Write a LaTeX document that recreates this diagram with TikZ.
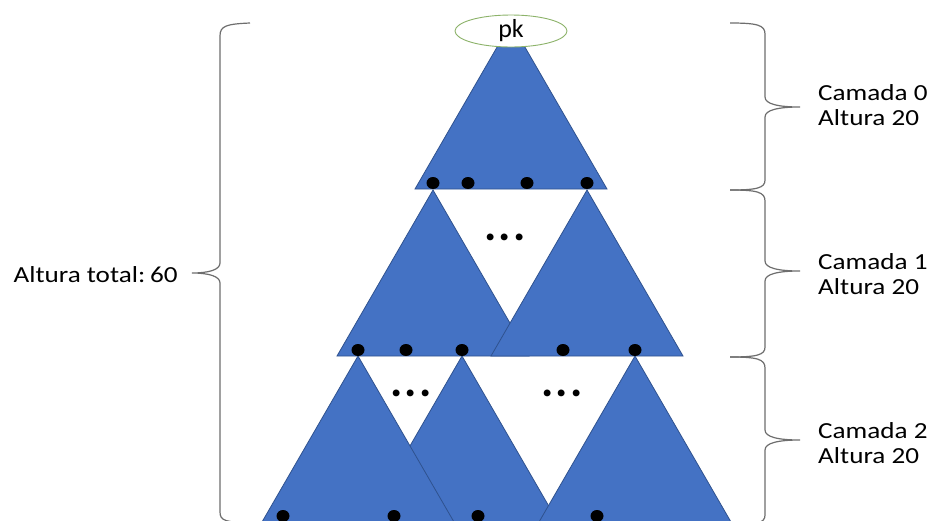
\documentclass[tikz,border=0pt]{standalone}
\usepackage{fontspec}
\setmainfont{Carlito}
\usetikzlibrary{shapes.geometric}
\definecolor{triblue}{HTML}{4472C4}
\definecolor{triline}{HTML}{2F528F}
\definecolor{ellgreen}{HTML}{8DB36A}
\definecolor{bracegray}{HTML}{6E6E6E}
\begin{document}
\begin{tikzpicture}[x=1pt,y=-1pt,
  tri/.style={fill=triblue, draw=triline, line width=0.8pt, line join=miter},
  leafdot/.style={fill=black},
  bracepath/.style={draw=bracegray, line width=1.2pt},
  lbl/.style={font=\fontsize{23}{25}\selectfont, align=left, inner sep=0pt, xscale=1.18, transform shape},
  elli/.style={font=\fontsize{46}{46}\selectfont\bfseries, inner sep=0pt}]
\useasboundingbox (0,0) rectangle (931,520);
\fill[white] (0,0) rectangle (931,520);

% layer 0
\coordinate (a0) at (511,23);
\draw[tri] (a0) -- (415,189) -- (607,189) -- cycle;

% layer 1 (right over left)
\coordinate (a1l) at (433,190);
\coordinate (a1r) at (587,190);
\draw[tri] (a1l) -- (337,356) -- (529,356) -- cycle;
\draw[tri] (a1r) -- (491,356) -- (683,356) -- cycle;

% layer 2 (middle below left and right)
\coordinate (a2l) at (358,356);
\coordinate (a2m) at (462,356);
\coordinate (a2r) at (635,356);
\draw[tri] (a2m) -- (366,522) -- (558,522) -- cycle;
\draw[tri] (a2l) -- (262,522) -- (454,522) -- cycle;
\draw[tri] (a2r) -- (539,522) -- (731,522) -- cycle;

% leaf dots
\foreach \x in {433,468,527,587} \fill[leafdot] (\x,183) ellipse [x radius=6.5pt, y radius=6pt];
\foreach \x in {358,406,462,563,635} \fill[leafdot] (\x,350) ellipse [x radius=6.5pt, y radius=6pt];
\foreach \x in {283,394,478,597} \fill[leafdot] (\x,516) ellipse [x radius=6.5pt, y radius=6pt];

% ellipses
\node[elli] (e1) at (505,237) {.\kern2.5pt.\kern2.5pt.};
\node[elli] (e2) at (411,393) {.\kern2.5pt.\kern2.5pt.};
\node[elli] (e3) at (562,393) {.\kern2.5pt.\kern2.5pt.};

% root
\node[draw=ellgreen, fill=white, ellipse, line width=0.9pt, minimum width=112pt, minimum height=32pt, inner sep=0pt, font=\fontsize{26}{26}\selectfont] (root) at (511,31) {pk};

% left brace
\draw[bracepath] (250,23) .. controls (226,24) and (220,26) .. (220,36) -- (220,263)
  .. controls (220,270) and (208,273) .. (192,273)
  .. controls (208,273) and (220,276) .. (220,283) -- (220,512)
  .. controls (220,521) and (226,522) .. (250,523);
\node[lbl, anchor=east] (total) at (178,275) {Altura total:\kern-1pt\ 60};

% right braces
\draw[bracepath] (730,23) .. controls (757,23) and (765,25) .. (765,34) -- (765,97)
  .. controls (765,104) and (778,107) .. (800,107)
  .. controls (778,107) and (765,110) .. (765,117) -- (765,180)
  .. controls (765,188) and (757,190) .. (730,190);
\draw[bracepath] (730,190) .. controls (757,190) and (765,192) .. (765,201) -- (765,261)
  .. controls (765,268) and (778,271) .. (800,271)
  .. controls (778,271) and (765,274) .. (765,281) -- (765,347)
  .. controls (765,355) and (757,357) .. (730,357);
\draw[bracepath] (730,357) .. controls (757,357) and (765,359) .. (765,368) -- (765,430)
  .. controls (765,437) and (778,440) .. (800,440)
  .. controls (778,440) and (765,443) .. (765,450) -- (765,515)
  .. controls (765,523) and (757,525) .. (730,525);

\node[lbl, anchor=west] (c0) at (818,105) {Camada 0\\Altura 20};
\node[lbl, anchor=west] (c1) at (818,274) {Camada 1\\Altura 20};
\node[lbl, anchor=west] (c2) at (818,443) {Camada 2\\Altura 20};
\end{tikzpicture}
\end{document}
